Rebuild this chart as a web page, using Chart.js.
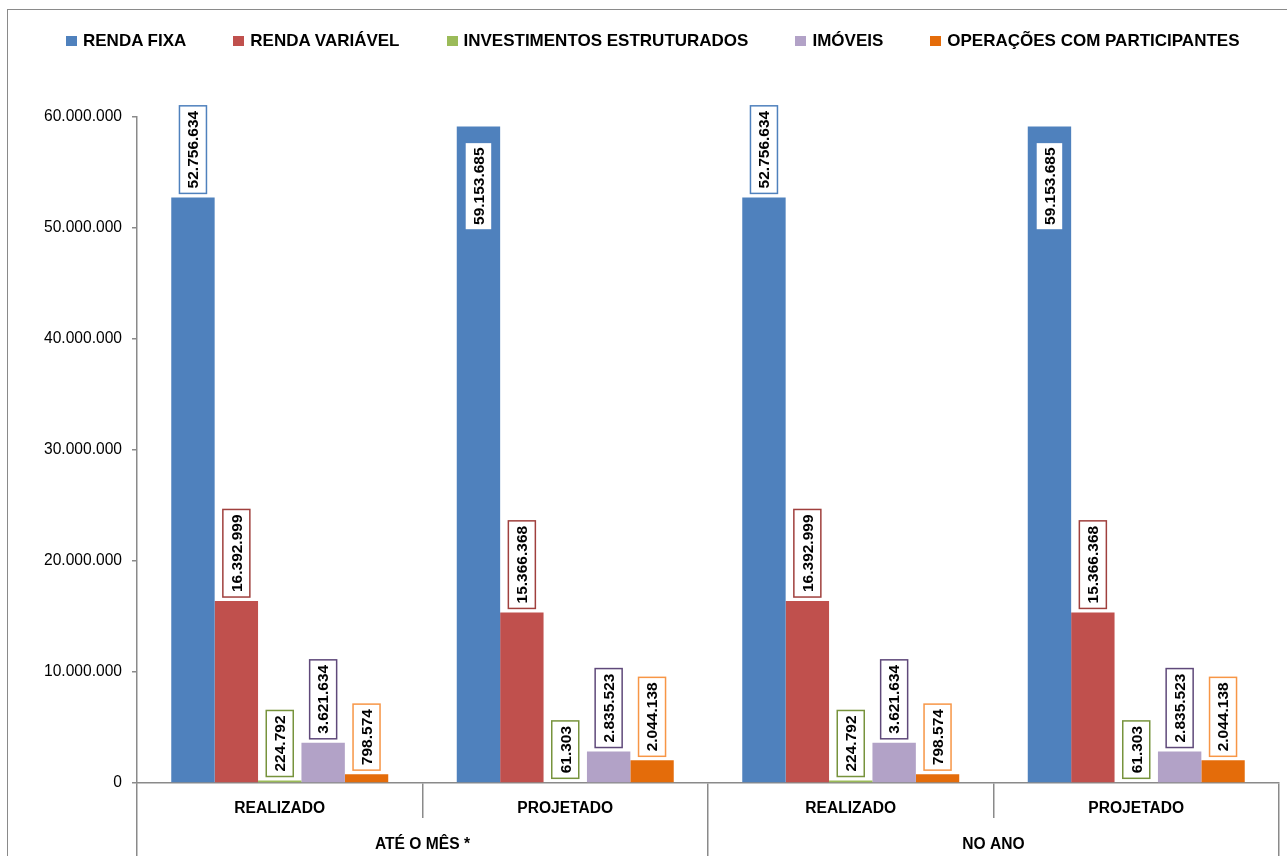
<!DOCTYPE html>
<html>
<head>
<meta charset="utf-8">
<script src="https://cdn.jsdelivr.net/npm/chart.js@4.4.1/dist/chart.umd.min.js"></script>
<style>
html, body { margin: 0; padding: 0; background: #fff; overflow: hidden; }
#wrap { position: relative; width: 1287px; height: 856px; overflow: hidden; }
#frame { position: absolute; left: 7px; top: 9px; width: 1400px; height: 1000px; border: 1.5px solid #8a8a8a; }
#legend { position: absolute; left: 66px; top: 31px; display: flex; align-items: center;
  font: bold 17px "Liberation Sans", Arial, sans-serif; color: #000; white-space: nowrap; line-height: 20px; }
#legend .item { display: flex; align-items: center; margin-right: 47px; }
#legend .box { width: 11px; height: 10px; margin-right: 6px; }
canvas { position: absolute; left: 0; top: 0; }
</style>
</head>
<body>
<div id="wrap">
  <div id="frame"></div>
  <canvas id="chart" width="1287" height="856"></canvas>
  <div id="legend"></div>
</div>
<script>
// categorias e grupos
const categories = ['REALIZADO', 'PROJETADO', 'REALIZADO', 'PROJETADO'];
const groups = ['ATÉ O MÊS *', 'NO ANO'];

// valores por segmento
const rendaFixa = [52756634, 59153685, 52756634, 59153685];
const rendaVariavel = [16392999, 15366368, 16392999, 15366368];
const investEstruturados = [224792, 61303, 224792, 61303];
const imoveis = [3621634, 2835523, 3621634, 2835523];
const operacoes = [798574, 2044138, 798574, 2044138];

const seriesNames = ['RENDA FIXA', 'RENDA VARIÁVEL', 'INVESTIMENTOS ESTRUTURADOS', 'IMÓVEIS', 'OPERAÇÕES COM PARTICIPANTES'];

// eixo y
const yMin = 0, yMax = 60000000, yStep = 10000000;

const colors = ['#4F81BD', '#C0504D', '#9BBB59', '#B2A2C7', '#E46C0A'];
const labelBorders = ['#4F81BD', '#A0403D', '#77933C', '#5F497A', '#F79646'];
const fontFamily = '"Liberation Sans", Arial, sans-serif';
const axisColor = '#8a8a8a';

const fmt = v => String(v).replace(/\B(?=(\d{3})+(?!\d))/g, '.');

const barLabels = {
  id: 'barLabels',
  afterDatasetsDraw(chart) {
    const ctx = chart.ctx, area = chart.chartArea;
    chart.data.datasets.forEach((ds, i) => {
      chart.getDatasetMeta(i).data.forEach((bar, j) => {
        ctx.save();
        ctx.font = 'bold 15.5px ' + fontFamily;
        const txt = fmt(ds.data[j]);
        const len = ctx.measureText(txt).width + 10;
        const w = 27;
        let top = bar.y - 4 - len;
        // sem espaço acima: rótulo dentro da barra
        if (top < area.top - 30) top = bar.y + 16;
        ctx.fillStyle = '#fff';
        ctx.fillRect(bar.x - w / 2, top, w, len);
        ctx.strokeStyle = labelBorders[i];
        ctx.lineWidth = 1.5;
        ctx.strokeRect(bar.x - w / 2, top, w, len);
        ctx.translate(bar.x, top + len / 2);
        ctx.rotate(-Math.PI / 2);
        ctx.fillStyle = '#000';
        ctx.textAlign = 'center';
        ctx.textBaseline = 'middle';
        ctx.fillText(txt, 0, 1);
        ctx.restore();
      });
    });
  }
};

const seriesData = [rendaFixa, rendaVariavel, investEstruturados, imoveis, operacoes];

const chart = new Chart(document.getElementById('chart').getContext('2d'), {
  type: 'bar',
  data: {
    labels: categories,
    datasets: seriesData.map((d, i) => ({
      label: seriesNames[i],
      data: d,
      backgroundColor: colors[i],
      borderWidth: 0,
      barPercentage: 1,
      categoryPercentage: 0.76
    }))
  },
  options: {
    responsive: false,
    animation: false,
    devicePixelRatio: 1,
    layout: { padding: { top: 117, right: 8, left: 0, bottom: 0 } },
    plugins: { legend: { display: false }, tooltip: { enabled: false } },
    scales: {
      x: {
        weight: 0,
        grid: { drawOnChartArea: false, offset: true, tickLength: 35, color: axisColor, lineWidth: 1.5 },
        border: { color: axisColor, width: 1.5 },
        ticks: { font: { family: fontFamily, size: 15.6, weight: 'bold' }, color: '#000', padding: -19, maxRotation: 0 },
        afterFit: s => { s.height = 35; }
      },
      x2: {
        type: 'category',
        labels: groups,
        position: 'bottom',
        weight: 1,
        grid: { drawOnChartArea: false, offset: true, tickLength: 40, color: axisColor, lineWidth: 1.5 },
        border: { display: false },
        ticks: { font: { family: fontFamily, size: 15.6, weight: 'bold' }, color: '#000', padding: -23, maxRotation: 0 },
        afterFit: s => { s.height = 38; }
      },
      y: {
        min: yMin,
        max: yMax,
        ticks: { stepSize: yStep, callback: v => fmt(v), font: { family: fontFamily, size: 15.6 }, color: '#000', padding: 10 },
        grid: { drawOnChartArea: false, tickLength: 5, color: axisColor, lineWidth: 1.5 },
        border: { color: axisColor, width: 1.5 },
        afterFit: s => { s.width = 137; }
      }
    }
  },
  plugins: [barLabels]
});

// legenda
const legend = document.getElementById('legend');
chart.data.datasets.forEach(ds => {
  const item = document.createElement('div');
  item.className = 'item';
  const box = document.createElement('span');
  box.className = 'box';
  box.style.background = ds.backgroundColor;
  const txt = document.createElement('span');
  txt.textContent = ds.label;
  item.appendChild(box);
  item.appendChild(txt);
  legend.appendChild(item);
});
</script>
</body>
</html>
